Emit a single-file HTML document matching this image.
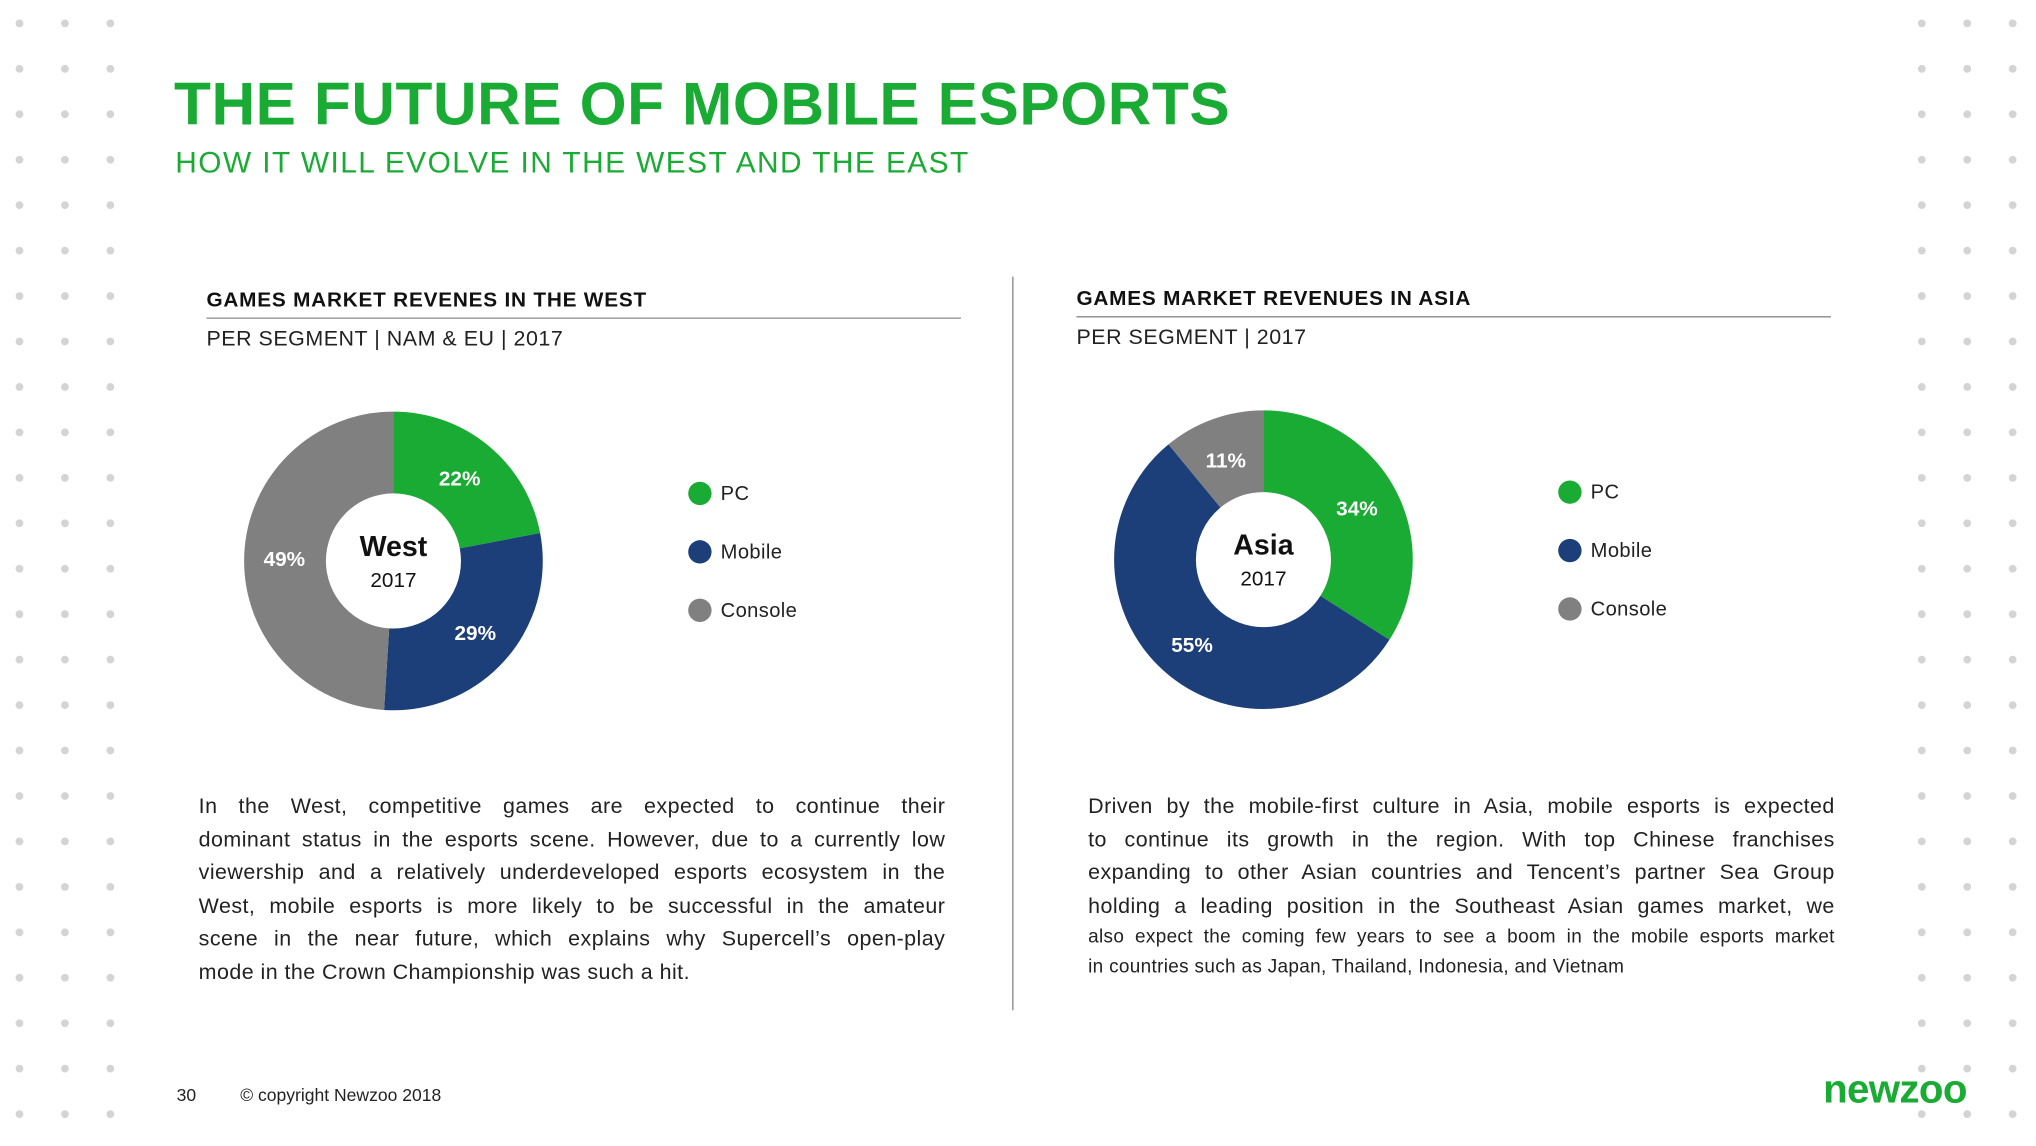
<!DOCTYPE html>
<html><head><meta charset="utf-8">
<style>
html,body{margin:0;padding:0;background:#fff;}
body{width:2036px;height:1146px;overflow:hidden;position:relative;font-family:"Liberation Sans",sans-serif;}
#w{position:absolute;left:0;top:0;width:1568px;height:882px;transform:scale(1.2985);transform-origin:0 0;}
.a{position:absolute;white-space:nowrap;}
.h{font-weight:bold;font-size:16px;color:#111;letter-spacing:0.6px;}
.s{font-size:16.5px;color:#222;letter-spacing:0.4px;}
.p{position:absolute;font-size:16.5px;line-height:25.6px;color:#222;letter-spacing:0.35px;}
.p div{text-align:justify;text-align-last:justify;white-space:nowrap;height:25.6px;}
.p div.l{text-align-last:left;}
.p div.sm{font-size:14.6px;height:23px;line-height:23px;letter-spacing:0.25px;}
.lg{font-size:15.5px;color:#222;letter-spacing:0.3px;}
</style></head><body><div id="w">
<svg width="1568" height="882" style="position:absolute;left:0;top:0">
<g fill="#d4d4d4" id="dots"></g>
<line x1="780" y1="213" x2="780" y2="778" stroke="#999" stroke-width="1.2"/>
<line x1="159" y1="245" x2="740" y2="245" stroke="#888" stroke-width="1"/>
<line x1="829" y1="244" x2="1410" y2="244" stroke="#888" stroke-width="1"/>
<g transform="rotate(-90 303 432)" fill="none" stroke-width="63">
<circle cx="303" cy="432" r="83.5" stroke="#1aab34" stroke-dasharray="115.4 600"/>
<circle cx="303" cy="432" r="83.5" stroke="#1c3f7a" stroke-dasharray="152.1 600" stroke-dashoffset="-115.4"/>
<circle cx="303" cy="432" r="83.5" stroke="#808080" stroke-dasharray="257.1 600" stroke-dashoffset="-267.5"/>
</g>
<g transform="rotate(-90 973 431)" fill="none" stroke-width="63">
<circle cx="973" cy="431" r="83.5" stroke="#1aab34" stroke-dasharray="178.4 600"/>
<circle cx="973" cy="431" r="83.5" stroke="#1c3f7a" stroke-dasharray="288.5 600" stroke-dashoffset="-178.4"/>
<circle cx="973" cy="431" r="83.5" stroke="#808080" stroke-dasharray="57.7 600" stroke-dashoffset="-466.9"/>
</g>
<g font-family="Liberation Sans, sans-serif" font-weight="bold" font-size="16" fill="#fff" text-anchor="middle">
<text x="354" y="374">22%</text><text x="366" y="493">29%</text><text x="219" y="436">49%</text>
<text x="944" y="360">11%</text><text x="1045" y="397">34%</text><text x="918" y="502">55%</text>
</g>
<g font-family="Liberation Sans, sans-serif" text-anchor="middle" fill="#111">
<text x="303" y="428" font-weight="bold" font-size="22">West</text><text x="303" y="452" font-size="16">2017</text>
<text x="973" y="427" font-weight="bold" font-size="22">Asia</text><text x="973" y="451" font-size="16">2017</text>
</g>
<circle cx="539" cy="380" r="9" fill="#1aab34"/><circle cx="539" cy="425" r="9" fill="#1c3f7a"/><circle cx="539" cy="470" r="9" fill="#808080"/>
<circle cx="1209" cy="379" r="9" fill="#1aab34"/><circle cx="1209" cy="424" r="9" fill="#1c3f7a"/><circle cx="1209" cy="469" r="9" fill="#808080"/>
</svg>
<div class="a" style="left:134px;top:53px;font-size:46.5px;font-weight:bold;color:#1aab34;letter-spacing:0.45px;">THE FUTURE OF MOBILE ESPORTS</div>
<div class="a" style="left:135px;top:112px;font-size:23px;color:#1aab34;letter-spacing:1.1px;">HOW IT WILL EVOLVE IN THE WEST AND THE EAST</div>
<div class="a h" style="left:159px;top:223px;">GAMES MARKET REVENES IN THE WEST</div>
<div class="a s" style="left:159px;top:252px;">PER SEGMENT | NAM &amp; EU | 2017</div>
<div class="a h" style="left:829px;top:222px;">GAMES MARKET REVENUES IN ASIA</div>
<div class="a s" style="left:829px;top:251px;">PER SEGMENT | 2017</div>
<div class="a lg" style="left:555px;top:372px;">PC</div><div class="a lg" style="left:555px;top:417px;">Mobile</div><div class="a lg" style="left:555px;top:462px;">Console</div>
<div class="a lg" style="left:1225px;top:371px;">PC</div><div class="a lg" style="left:1225px;top:416px;">Mobile</div><div class="a lg" style="left:1225px;top:461px;">Console</div>
<div class="p" style="left:153px;top:609px;width:575px;">
<div>In the West, competitive games are expected to continue their</div>
<div>dominant status in the esports scene. However, due to a currently low</div>
<div>viewership and a relatively underdeveloped esports ecosystem in the</div>
<div>West, mobile esports is more likely to be successful in the amateur</div>
<div>scene in the near future, which explains why Supercell’s open-play</div>
<div class="l">mode in the Crown Championship was such a hit.</div>
</div>
<div class="p" style="left:838px;top:609px;width:575px;">
<div>Driven by the mobile-first culture in Asia, mobile esports is expected</div>
<div>to continue its growth in the region. With top Chinese franchises</div>
<div>expanding to other Asian countries and Tencent’s partner Sea Group</div>
<div>holding a leading position in the Southeast Asian games market, we</div>
<div class="sm">also expect the coming few years to see a boom in the mobile esports market</div>
<div class="sm l">in countries such as Japan, Thailand, Indonesia, and Vietnam</div>
</div>
<div class="a" style="left:136px;top:836px;font-size:13.5px;color:#222;">30</div>
<div class="a" style="left:185px;top:836px;font-size:13.5px;color:#222;">© copyright Newzoo 2018</div>
<div class="a" style="left:1404px;top:821px;font-size:31px;font-weight:bold;color:#1aab34;letter-spacing:-0.5px;">newzoo</div>
</div>
<script>
var g=document.getElementById('dots'),s='';
for(var y=18;y<=870;y+=35){[15,50,85,1480,1515,1550].forEach(function(x){s+='<circle cx="'+x+'" cy="'+y+'" r="3"/>';});}
g.innerHTML=s;
</script>
</body></html>
